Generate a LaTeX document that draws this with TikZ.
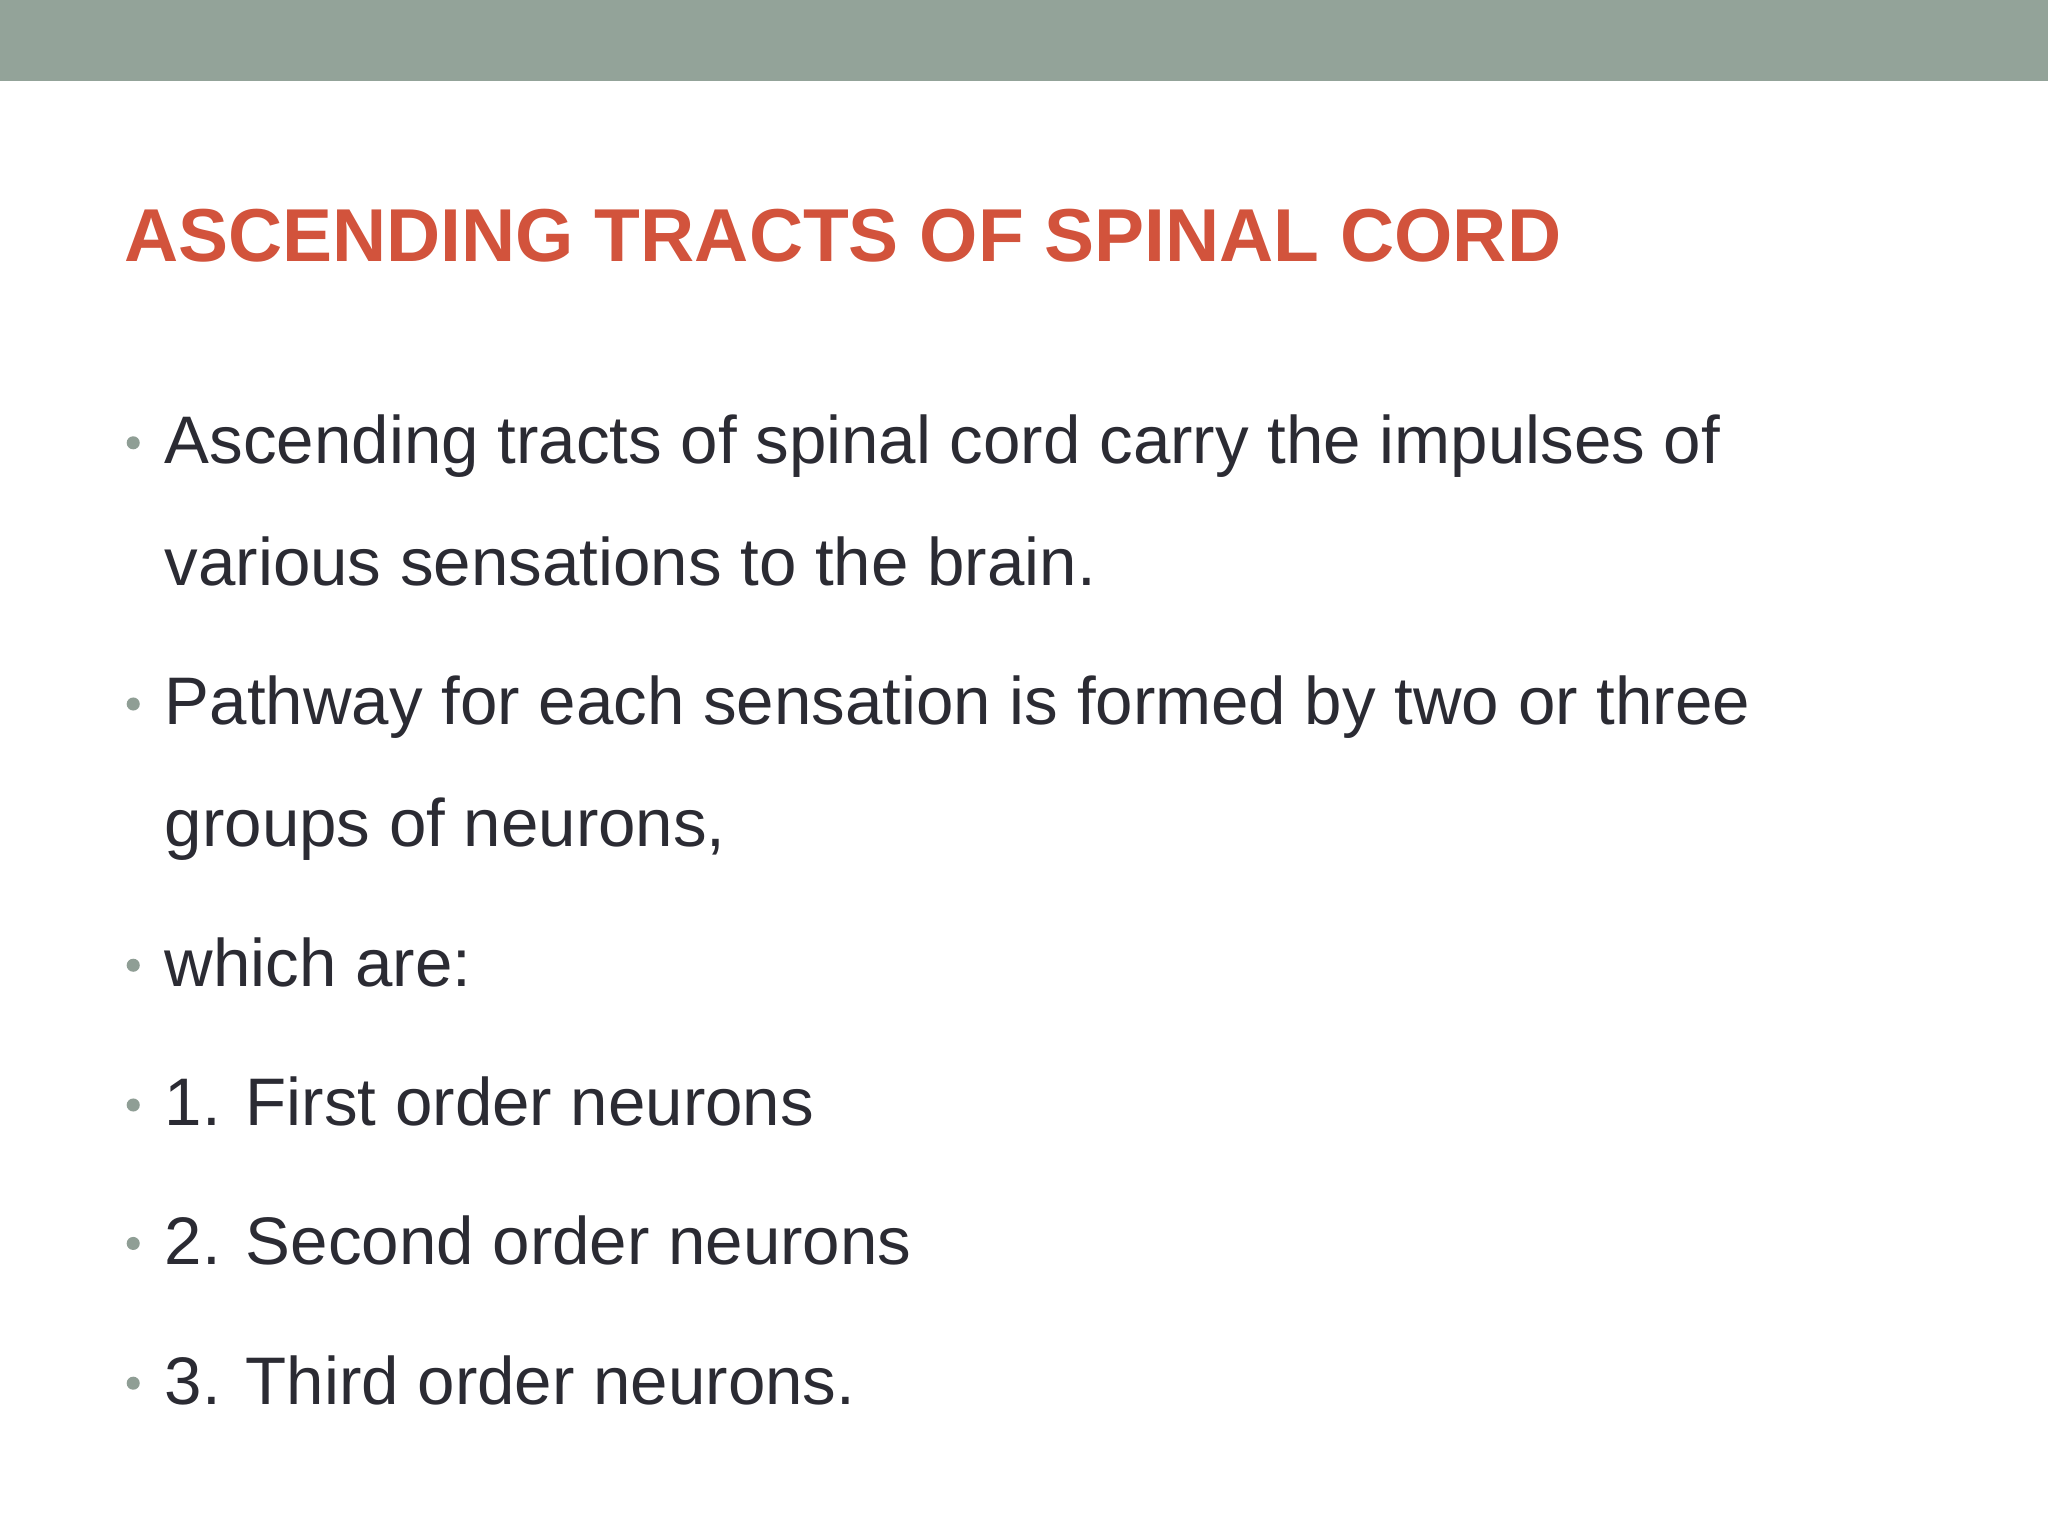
\documentclass[tikz,border=0pt]{standalone}
\usepackage{fontspec}
\setmainfont{Liberation Sans}
\definecolor{bar}{HTML}{93A399}
\definecolor{ttl}{HTML}{D2533C}
\definecolor{txt}{HTML}{2B2B33}
\definecolor{bul}{HTML}{8F9E95}
\tikzset{body/.style={anchor=base west,inner sep=0pt,text=txt,font=\fontsize{51.5}{51.5}\selectfont},
bdot/.style={circle,fill=bul,inner sep=0pt,minimum size=10pt}}
\begin{document}
\begin{tikzpicture}[x=1pt,y=-1pt]
\useasboundingbox (0,0) rectangle (1568,1176);
\fill[white] (0,0) rectangle (1568,1176);
\fill[bar] (0,0) rectangle (1568,62);
\node[anchor=base west,inner sep=0pt,text=ttl,font=\fontsize{57.4}{57.4}\selectfont\bfseries] (title) at (95,200) {ASCENDING TRACTS OF SPINAL CORD};
\foreach \n/\y/\t in {a/355/{Ascending tracts of spinal cord carry the impulses of},
 b/448/{various sensations to the brain.},
 c/555/{Pathway for each sensation is formed by two or three},
 d/648/{groups of neurons,},
 e/755/{which are:},
 f/862/{1. First order neurons},
 g/968/{2. Second order neurons},
 h/1075/{3. Third order neurons.}}
 \node[body] (\n) at (126,\y) {\t};
\foreach \n/\y in {a/355,c/555,e/755,f/862,g/968,h/1075}
 \node[bdot] (dot\n) at (102,\y-16) {};
\end{tikzpicture}
\end{document}
